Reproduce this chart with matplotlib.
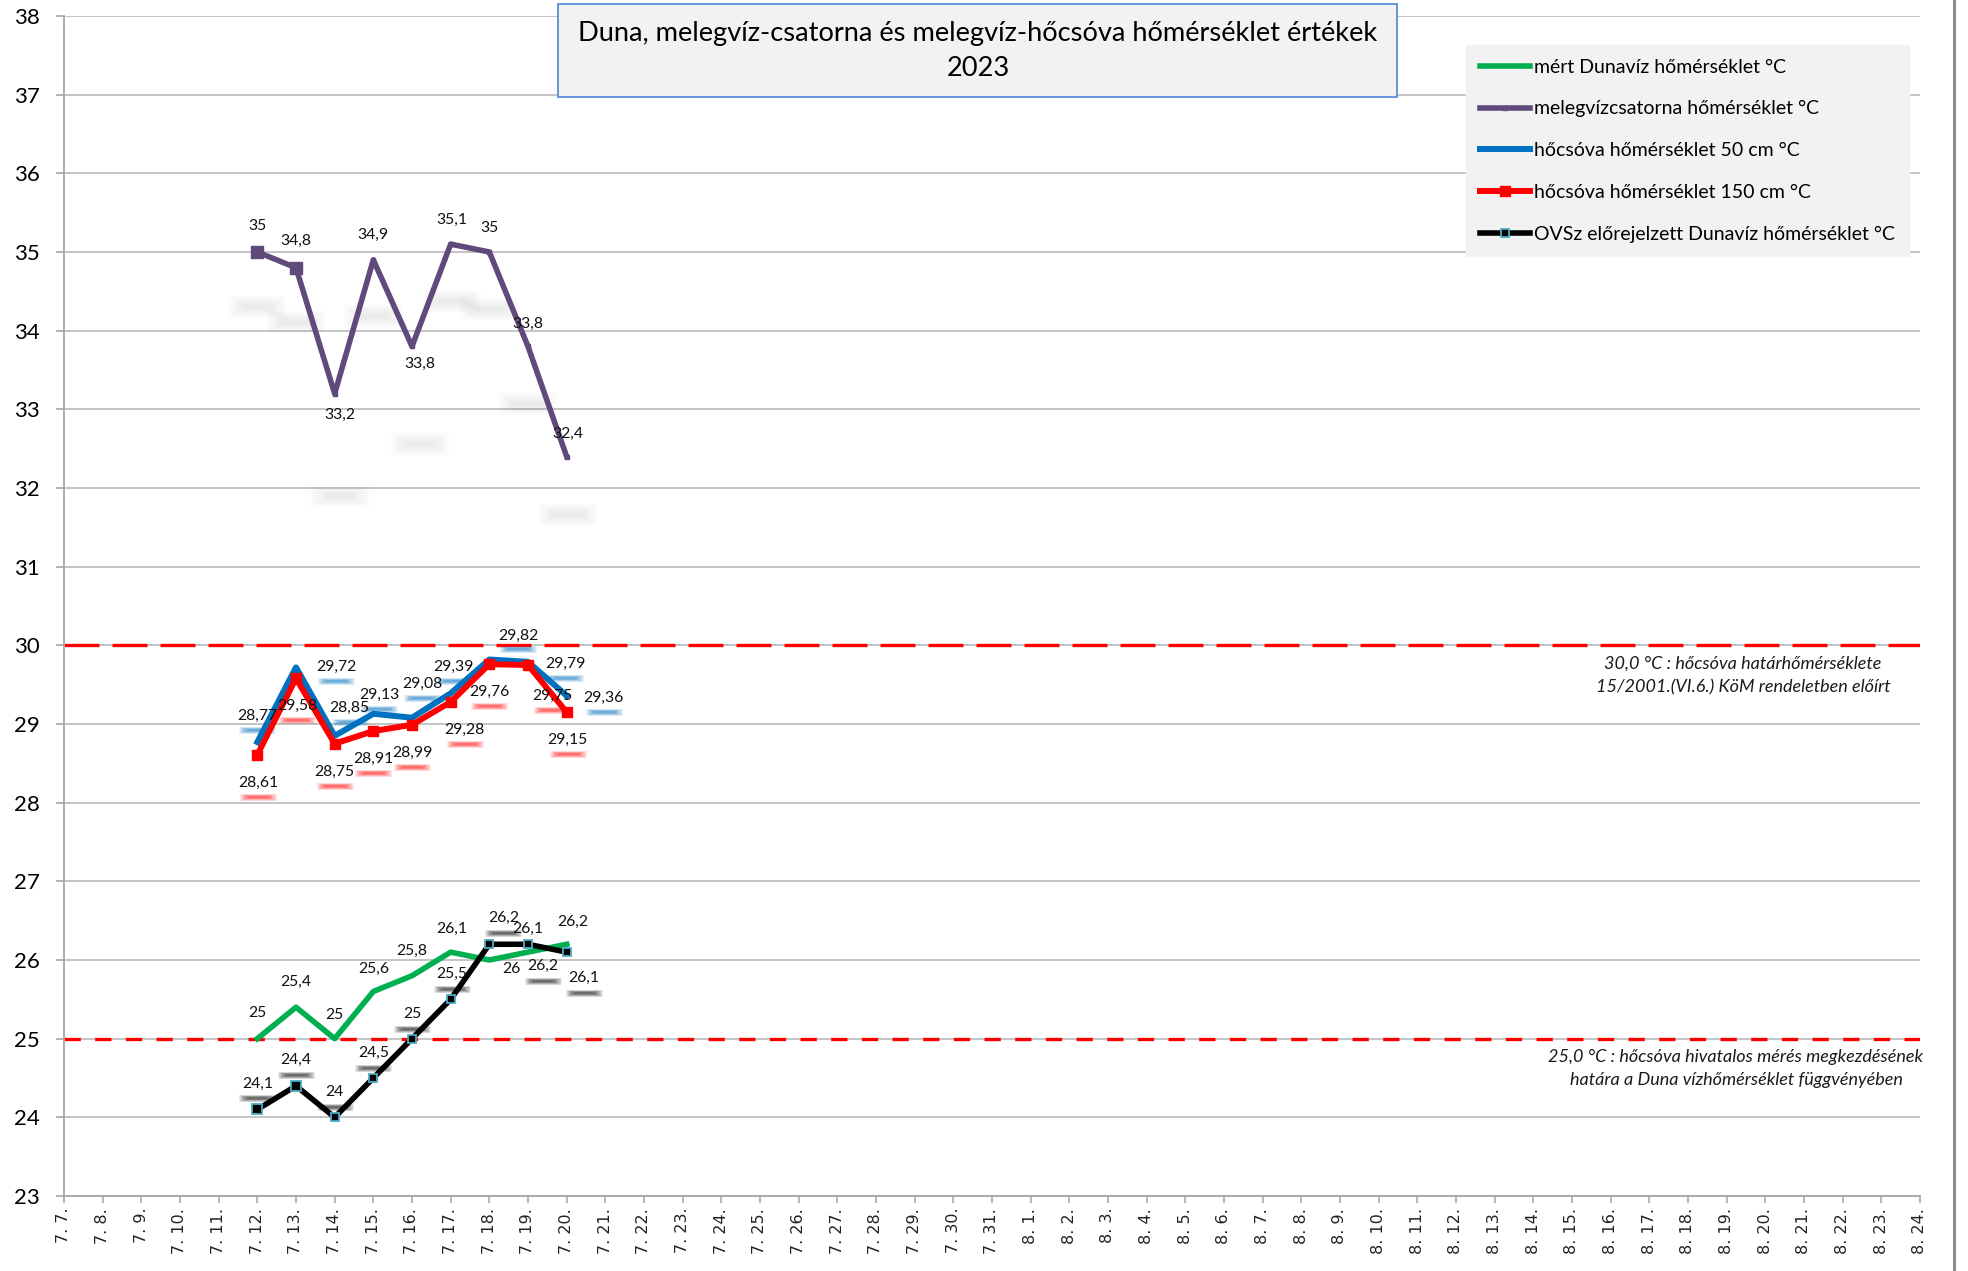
import matplotlib.pyplot as plt
import matplotlib.transforms as mtransforms
from matplotlib.lines import Line2D
from matplotlib.patches import Rectangle

plt.rcParams['font.family'] = ['Lato', 'DejaVu Sans']

# x categories: one per day, 7. 7. - 8. 24.
days = [f'7. {d}.' for d in range(7, 32)] + [f'8. {d}.' for d in range(1, 25)]
meas_days = ['7. 12.', '7. 13.', '7. 14.', '7. 15.', '7. 16.',
             '7. 17.', '7. 18.', '7. 19.', '7. 20.']

duna = [25, 25.4, 25, 25.6, 25.8, 26.1, 26, 26.1, 26.2]
csatorna = [35, 34.8, 33.2, 34.9, 33.8, 35.1, 35, 33.8, 32.4]
hocsova_50 = [28.77, 29.72, 28.85, 29.13, 29.08, 29.39, 29.82, 29.79, 29.36]
hocsova_150 = [28.61, 29.58, 28.75, 28.91, 28.99, 29.28, 29.76, 29.75, 29.15]
ovsz = [24.1, 24.4, 24, 24.5, 25, 25.5, 26.2, 26.2, 26.1]

limit_hocsova = 30.0
limit_meres = 25.0

names = ['mért Dunavíz hőmérséklet °C',
         'melegvízcsatorna hőmérséklet °C',
         'hőcsóva hőmérséklet 50 cm °C',
         'hőcsóva hőmérséklet 150 cm °C',
         'OVSz előrejelzett Dunavíz hőmérséklet °C']

# label offsets (pixels, y up) - the labels were dragged around by hand in the original
off_duna = [(0, 26), (0, 25), (0, 24), (0, 23), (0, 25), (1, 23), (22, -9), (0, 23), (6, 22)]
off_csat = [(0, 26), (0, 27), (5, -21), (0, 25), (8, -17), (1, 24), (0, 24), (0, 23), (1, 23)]
off_50 = [(0, 26), (40, 0), (15, 28), (6, 19), (10, 34), (3, 26), (29, 24), (37, -2), (37, -2)]
off_150 = [(1, -28), (1, -28), (0, -28), (0, -28), (0, -28), (14, -28), (0, -28), (24, -31), (1, -28)]
off_ovsz = [(0, 26), (0, 26), (0, 25), (0, 25), (0, 25), (1, 25), (14, 26), (15, -22), (17, -26)]

GREEN = '#00b050'
PURPLE = '#604a7b'
BLUE = '#0070c0'
RED = '#ff0000'
CYAN = '#4bacc6'

W, H = 1968, 1271
fig = plt.figure(figsize=(W / 100, H / 100), dpi=100)
ax = fig.add_axes([64 / W, 75 / H, 1856 / W, 1180 / H])

x = [days.index(d) for d in meas_days]

# threshold lines
ax.axhline(limit_hocsova, color=RED, lw=2.4, dashes=(10.5, 3.9), zorder=1.5)
ax.axhline(limit_meres, color=RED, lw=2.4, dashes=(4.9, 4.3), zorder=1.5)

LW = 4.0
l_duna, = ax.plot(x, duna, color=GREEN, lw=LW, marker='_', ms=3, zorder=3)
l_csat, = ax.plot(x, csatorna, color=PURPLE, lw=LW, marker='s', ms=3, zorder=3)
ax.plot(x[:2], csatorna[:2], 's', color=PURPLE, ms=8.5, zorder=3)
l_50, = ax.plot(x, hocsova_50, color=BLUE, lw=LW + 0.3, marker='_', ms=3, zorder=3)
l_150, = ax.plot(x, hocsova_150, color=RED, lw=LW + 0.3, marker='s', ms=7.5, zorder=3)
l_ovsz, = ax.plot(x, ovsz, color='black', lw=LW, marker='s', ms=5.2,
                  mfc='black', mec=CYAN, mew=1.3, zorder=3)
ax.plot(x[:2], ovsz[:2], 's', ms=7.8, mfc='black', mec=CYAN, mew=1.3, zorder=3)


def shifted(dx, dy):
    return ax.transData + mtransforms.ScaledTranslation(dx / 100, dy / 100, fig.dpi_scale_trans)


def labels(vals, offs, shadow=None, shadow_dy=-14, faint=False):
    for xi, v, (dx, dy) in zip(x, vals, offs):
        txt = f'{v:g}'.replace('.', ',')
        ax.annotate(txt, (xi, v), xytext=(dx, dy), textcoords='offset pixels',
                    ha='center', va='center', fontsize=11.3, color='#111111', zorder=5)
        if shadow is None:
            continue
        tr = shifted(dx, dy + shadow_dy)
        if faint:
            for k in range(5):
                ax.plot(xi, v, marker='_', ms=22 + 5 * k, mew=4 + 3 * k, color=shadow,
                        alpha=0.018, transform=tr, zorder=1)
        else:
            # fake blurred text shadow
            for k in range(5):
                ax.plot(xi, v, marker='_', ms=14 + 3 * k, mew=1.2 + 0.9 * k, color=shadow,
                        alpha=0.16, transform=tr, zorder=2)


labels(duna, off_duna)
labels(csatorna, off_csat, shadow='#555555', shadow_dy=-81, faint=True)
labels(hocsova_50, off_50, shadow=BLUE)
labels(hocsova_150, off_150, shadow=RED)
labels(ovsz, off_ovsz, shadow='black', shadow_dy=-15)

ax.set_xlim(0, len(days) - 1)
ax.set_ylim(23, 38)
ax.set_yticks(range(23, 39))
ax.set_xticks(range(len(days)))
ax.set_xticklabels(days, rotation=90, va='top', ha='center',
                   family='DejaVu Sans', fontsize=11.5, color='#222222')
ax.tick_params(axis='x', length=5, width=1.2, color='#a6a6a6', pad=3.5)
ax.tick_params(axis='y', length=5.5, width=1.2, color='#a6a6a6', pad=12, labelsize=16)
ax.yaxis.grid(True, color='#bfbfbf', lw=1.3)
ax.set_axisbelow(True)
for s in ['top', 'right']:
    ax.spines[s].set_visible(False)
for s in ['left', 'bottom']:
    ax.spines[s].set_color('#a6a6a6')
    ax.spines[s].set_linewidth(1.3)

# notes under the threshold lines
note_kw = dict(ha='center', va='center', fontsize=13, style='italic', color='#1a1a1a')
fig.text(1743 / W, 1 - 664 / H, '30,0 °C : hőcsóva határhőmérséklete', **note_kw)
fig.text(1743 / W, 1 - 687 / H, '15/2001.(VI.6.) KöM rendeletben előírt', **note_kw)
fig.text(1735 / W, 1 - 1057 / H, '25,0 °C : hőcsóva hivatalos mérés megkezdésének', **note_kw)
fig.text(1736 / W, 1 - 1080 / H, 'határa a Duna vízhőmérséklet függvényében', **note_kw)

# title box
fig.add_artist(Rectangle((558 / W, 1 - 97 / H), 839 / W, 93 / H, transform=fig.transFigure,
                         facecolor='#f2f2f2', edgecolor='#5b8fd6', lw=1.3, zorder=5))
fig.text(978 / W, 1 - 34 / H, 'Duna, melegvíz-csatorna és melegvíz-hőcsóva hőmérséklet értékek',
         ha='center', va='center', fontsize=19.6, zorder=6)
fig.text(978 / W, 1 - 69 / H, '2023', ha='center', va='center', fontsize=19.6, zorder=6)

fig.legend([l_duna, l_csat, l_50, l_150, l_ovsz], names, loc='upper left',
           bbox_to_anchor=(1466 / W, 1 - 45 / H), bbox_transform=fig.transFigure,
           frameon=True, facecolor='#f2f2f2', edgecolor='#f2f2f2', framealpha=1,
           fancybox=False, fontsize=14, handlelength=2.6, handletextpad=0.2,
           labelspacing=1.27, borderpad=0.7, borderaxespad=0)

# chart area border on the right
fig.add_artist(Line2D([1954 / W, 1954 / W], [0, 1], color='#8c8c8c', lw=2.2))

fig.savefig('out.png', dpi=100)
